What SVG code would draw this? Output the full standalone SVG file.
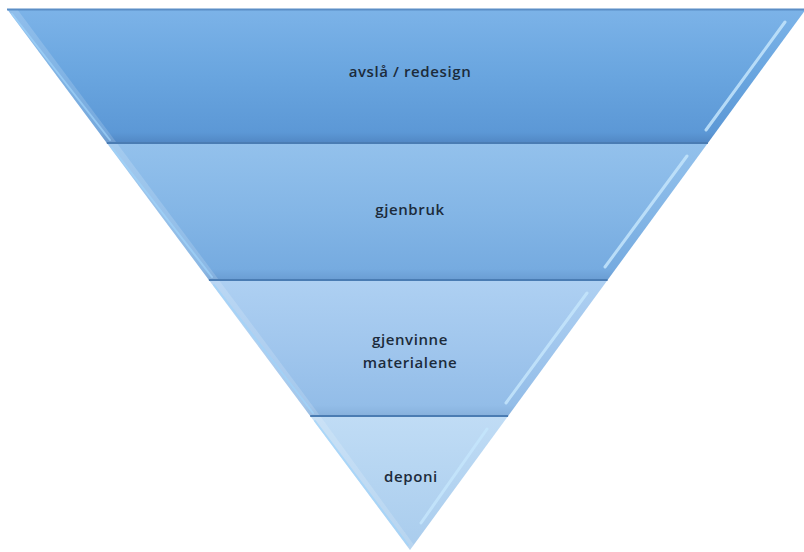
<svg xmlns="http://www.w3.org/2000/svg" width="804" height="552" viewBox="0 0 804 552">
  <style>
    .lbl { font-family: "Open Sans", "Liberation Sans", sans-serif; font-size: 15px; font-weight: 600; fill: #1c2b3b; text-anchor: middle; letter-spacing: 0.6px; }
    .bevel { fill: #ffffff; opacity: 0.16; }
    .hl { stroke: #c4e5fb; stroke-width: 3; stroke-linecap: round; opacity: 0.85; fill: none; }
    .hlL { stroke: #9fd3fa; stroke-width: 2; stroke-linecap: round; opacity: 0.7; fill: none; }
    .sep { stroke: #4a7cb3; stroke-width: 2; }
    .topline { stroke: #5b8ec6; stroke-width: 2; }
  </style>
  <defs>
    <linearGradient id="g1" x1="0" y1="0" x2="0" y2="1">
      <stop offset="0" stop-color="#7cb3e8"/>
      <stop offset="0.5" stop-color="#69a5df"/>
      <stop offset="0.92" stop-color="#5c98d6"/>
      <stop offset="1" stop-color="#5187c4"/>
    </linearGradient>
    <linearGradient id="g2" x1="0" y1="0" x2="0" y2="1">
      <stop offset="0" stop-color="#93c1ec"/>
      <stop offset="0.5" stop-color="#84b6e6"/>
      <stop offset="0.92" stop-color="#76abe0"/>
      <stop offset="1" stop-color="#6a9dd3"/>
    </linearGradient>
    <linearGradient id="g3" x1="0" y1="0" x2="0" y2="1">
      <stop offset="0" stop-color="#aed0f2"/>
      <stop offset="0.5" stop-color="#a0c6ed"/>
      <stop offset="0.92" stop-color="#93bde8"/>
      <stop offset="1" stop-color="#86b0dc"/>
    </linearGradient>
    <linearGradient id="g4" x1="0" y1="0" x2="0" y2="1">
      <stop offset="0" stop-color="#c0dcf5"/>
      <stop offset="0.5" stop-color="#b4d4f1"/>
      <stop offset="1" stop-color="#a9cced"/>
    </linearGradient>
  </defs>

  <g id="band1">
    <polygon points="7,9 806,9 707.9,143 106.8,143" fill="url(#g1)"/>
    <polygon class="bevel" points="7,9 17,9 116.8,143 106.8,143"/>
    <line class="hlL" x1="12" y1="14" x2="110" y2="140"/>
    <line class="hl" x1="785" y1="22" x2="706" y2="130"/>
    <line class="topline" x1="7" y1="9.5" x2="804" y2="9.5"/>
    <text class="lbl" x="410" y="77">avslå / redesign</text>
  </g>

  <g id="band2">
    <polygon points="106.8,143 707.9,143 607.6,280 208.9,280" fill="url(#g2)"/>
    <polygon class="bevel" points="106.8,143 116.8,143 218.9,280 208.9,280"/>
    <line class="hlL" x1="112" y1="148" x2="212" y2="277"/>
    <line class="hl" x1="687" y1="156" x2="605" y2="267"/>
    <text class="lbl" x="410" y="215">gjenbruk</text>
  </g>

  <g id="band3">
    <polygon points="208.9,280 607.6,280 508.1,416 310.2,416" fill="url(#g3)"/>
    <polygon class="bevel" points="208.9,280 218.9,280 320.2,416 310.2,416"/>
    <line class="hlL" x1="214" y1="285" x2="313" y2="413"/>
    <line class="hl" x1="587" y1="293" x2="506" y2="403"/>
    <text class="lbl" x="410" y="345">gjenvinne</text>
    <text class="lbl" x="410" y="368">materialene</text>
  </g>

  <g id="band4">
    <polygon points="310.2,416 508.1,416 410,550" fill="url(#g4)"/>
    <polygon class="bevel" points="310.2,416 320.2,416 414,545 410,550"/>
    <line class="hlL" x1="315" y1="421" x2="408" y2="545"/>
    <line class="hl" x1="487" y1="429" x2="421" y2="523"/>
    <text class="lbl" x="411" y="482">deponi</text>
  </g>

  <g id="connectors">
    <line class="sep" x1="106.8" y1="143" x2="707.9" y2="143"/>
    <line class="sep" x1="208.9" y1="280" x2="607.6" y2="280"/>
    <line class="sep" x1="310.2" y1="416" x2="508.1" y2="416"/>
  </g>
</svg>
